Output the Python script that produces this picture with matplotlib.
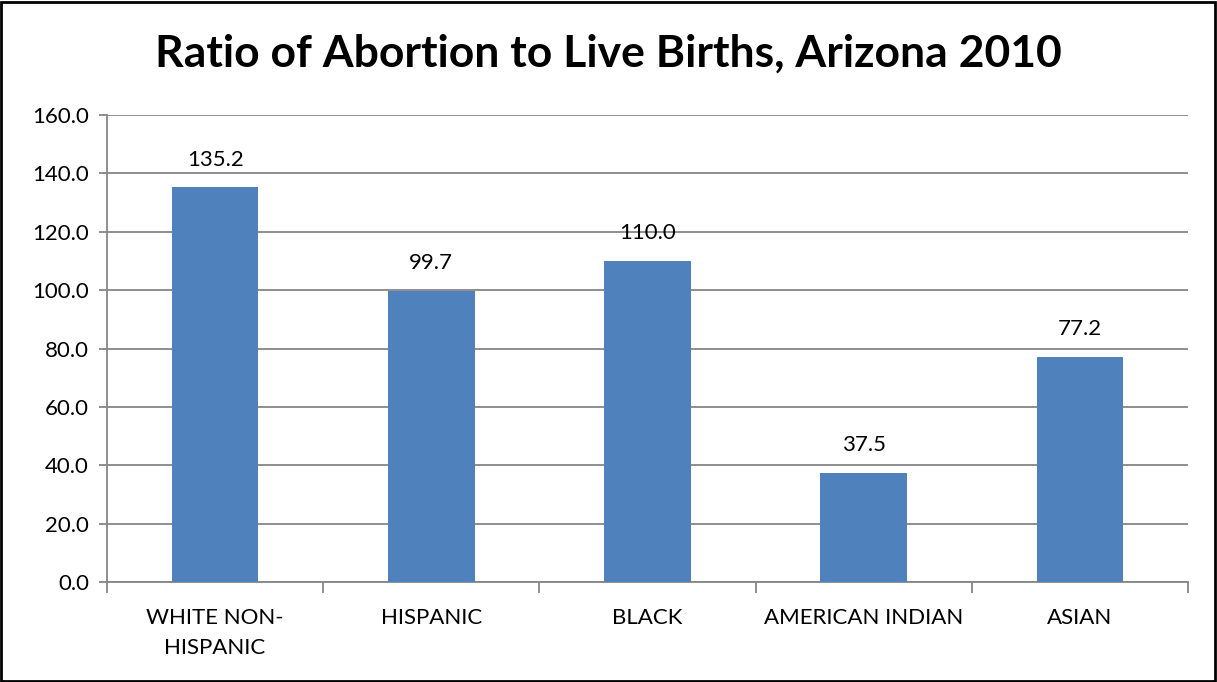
import matplotlib
matplotlib.use("Agg")
import matplotlib.pyplot as plt
from matplotlib.patches import Rectangle

categories = ["WHITE NON-\nHISPANIC", "HISPANIC", "BLACK", "AMERICAN INDIAN", "ASIAN"]
values = [135.2, 99.7, 110.0, 37.5, 77.2]
yticks = [0, 20, 40, 60, 80, 100, 120, 140, 160]

plt.rcParams['font.family'] = ['Lato', 'DejaVu Sans']

fig = plt.figure(figsize=(12.17, 6.82), dpi=100)
ax = fig.add_axes([0.0879, 0.1466, 0.8883, 0.6848])

x = list(range(len(categories)))
ax.bar(x, values, width=0.4, color="#4F81BD", zorder=3)
for xi, v in zip(x, values):
    ax.text(xi, v + 6, f"{v:.1f}", ha="center", va="bottom", fontsize=16, color="black")

ax.set_xlim(-0.5, len(categories) - 0.5)
ax.set_ylim(0, 160)
ax.set_yticks(yticks)
ax.set_yticklabels([f"{t:.1f}" for t in yticks], fontsize=16)
ax.yaxis.grid(True, color="#868686", linewidth=1.3, zorder=0)
ax.set_axisbelow(True)

ax.set_xticks(x)
ax.set_xticklabels(categories, fontsize=16, linespacing=1.6)
ax.tick_params(axis="x", length=0, pad=19)
ax.set_xticks([i - 0.5 for i in range(len(categories) + 1)], minor=True)
ax.tick_params(axis="x", which="minor", length=8, color="#868686", width=1.3)
ax.tick_params(axis="y", length=6, color="#868686", width=1.3, pad=7)

for s in ["top", "right"]:
    ax.spines[s].set_visible(False)
for s in ["left", "bottom"]:
    ax.spines[s].set_color("#868686")
    ax.spines[s].set_linewidth(1.3)

fig.text(0.5, 0.922, "Ratio of Abortion to Live Births, Arizona 2010",
         ha="center", va="center", fontsize=32, fontweight="bold")

fig.add_artist(Rectangle((0.001, 0.002), 0.997, 0.995, transform=fig.transFigure,
                         fill=False, edgecolor="black", linewidth=2))

fig.savefig("out.png", dpi=100)
